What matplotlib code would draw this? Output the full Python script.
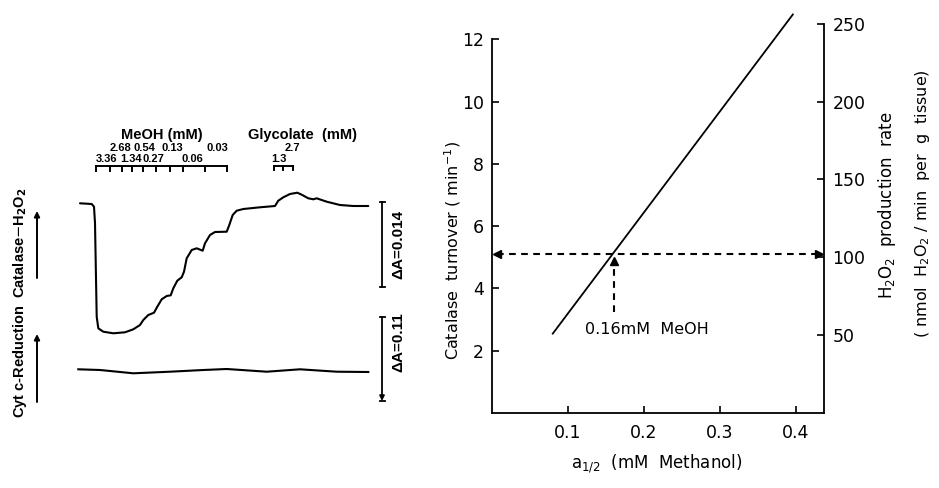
import matplotlib
matplotlib.use("Agg")
import matplotlib.pyplot as plt

# ---------------- data ----------------
# Left panel: recorder traces (in picture units)
upper_trace_x = [80, 91.7, 94, 95, 96.7, 98.3, 103.3, 113.3, 125, 133.3, 140, 143.3, 148.3,
                 154, 157.3, 161.7, 166.7, 170.7, 173.3, 177.3, 181.7, 184, 186.7, 191.7,
                 196.7, 202.7, 205, 210, 215, 226.7, 229.3, 232.7, 236.7, 243.3, 260, 275,
                 278.3, 283.3, 290, 297.3, 301.7, 308.3, 313.3, 316.7, 326.7, 340, 353.3, 368.3]
upper_trace_y = [203.3, 204, 206.7, 223, 316.7, 328.3, 331.7, 333.3, 332.3, 329.3, 325, 320, 315,
                 312.7, 306.7, 299.3, 296, 295.3, 288.3, 280.7, 277.3, 271.7, 258.3, 250,
                 248.3, 250.7, 243.3, 235, 232, 231.7, 225, 215, 210.7, 209, 207.3, 206,
                 200.7, 197.3, 194, 192.7, 194.7, 198.3, 199.3, 198.3, 201.7, 205, 206, 206]
lower_trace_x = [78.3, 100, 133.3, 170, 203.3, 226.7, 266.7, 300, 336.7, 368.3]
lower_trace_y = [369.3, 370, 373.3, 371.7, 370, 369, 371.7, 369.3, 371.7, 372]

meoh_row1 = ["2.68", "0.54", "0.13", "0.03"]
meoh_row2 = ["3.36", "1.34", "0.27", "0.06"]
glyc_row1 = ["2.7"]
glyc_row2 = ["1.3"]
scale_labels = ["ΔA=0.014", "ΔA=0.11"]

# Right panel
a_half = [0.08, 0.396]                 # mM methanol
turnover = [2.55, 12.8]                # min^-1
marked_a = 0.16
marked_turnover = 5.1
left_ticks = [2, 4, 6, 8, 10, 12]
right_ticks = [50, 100, 150, 200, 250]
x_ticks = [0.1, 0.2, 0.3, 0.4]
x_ticklabels = ["0.1", "0.2", "0.3", "0.4"]
h2o2_per_turnover = 20.0

# ---------------- figure ----------------
plt.rcParams['font.family'] = ['DejaVu Sans']
fig = plt.figure(figsize=(9.39, 4.88), dpi=100)

# Left panel drawn in picture coordinates
axL = fig.add_axes([0, 0, 1, 1])
axL.set_xlim(0, 939)
axL.set_ylim(488, 0)
axL.axis('off')

k = 'black'
axL.plot(upper_trace_x, upper_trace_y, color=k, lw=1.5, solid_joinstyle='round',
         solid_capstyle='round')
axL.plot(lower_trace_x, lower_trace_y, color=k, lw=1.5)

bold = dict(fontweight='bold', family='Liberation Sans', color=k)
axL.text(162, 135, "MeOH (mM)", ha='center', va='center', fontsize=10.5, **bold)
axL.text(302, 135, "Glycolate  (mM)", ha='center', va='center', fontsize=10.5, **bold)
for s, xc in zip(meoh_row1, [120, 144, 172, 217]):
    axL.text(xc, 148, s, ha='center', va='center', fontsize=8, **bold)
for s, xc in zip(meoh_row2, [107, 131, 153, 192]):
    axL.text(xc, 159, s, ha='center', va='center', fontsize=8, **bold)
axL.text(292, 148, glyc_row1[0], ha='center', va='center', fontsize=8, **bold)
axL.text(279, 159, glyc_row2[0], ha='center', va='center', fontsize=8, **bold)

# brackets
axL.plot([96, 227], [166, 166], color=k, lw=1.4)
for xt in [96, 110, 122, 132, 143, 156, 170, 183, 205, 227]:
    axL.plot([xt, xt], [166, 171], color=k, lw=1.4)
axL.plot([274, 293], [166, 166], color=k, lw=1.4)
for xt in [274, 283, 293]:
    axL.plot([xt, xt], [166, 170], color=k, lw=1.4)

# left arrows
for y0, y1 in [(278, 211), (402, 334)]:
    axL.annotate("", xy=(37, y1), xytext=(37, y0),
                 arrowprops=dict(arrowstyle='-|>', color=k, lw=1.4,
                                 mutation_scale=8, shrinkA=0, shrinkB=0))
axL.text(20, 303, r"Cyt c-Reduction  Catalase$-$H$_\mathbf{2}$O$_\mathbf{2}$",
         rotation=90, ha='center', va='center', fontsize=10.5, **bold)

# scale bars
axL.plot([382, 382], [202, 287], color=k, lw=1.3)
for yc in [202, 287, 317]:
    axL.plot([379.5, 384.5], [yc, yc], color=k, lw=1.3)
axL.annotate("", xy=(382, 401), xytext=(382, 317),
             arrowprops=dict(arrowstyle='-|>', color=k, lw=1.3,
                             mutation_scale=7, shrinkA=0, shrinkB=0))
axL.plot([379.5, 384.5], [401, 401], color=k, lw=1.3)
axL.text(398, 244, scale_labels[0], rotation=90, ha='center', va='center', fontsize=11, **bold)
axL.text(398, 342, scale_labels[1], rotation=90, ha='center', va='center', fontsize=11, **bold)

# Right panel
W, H = 939, 488
ax = fig.add_axes([492 / W, (H - 413) / H, (824 - 492) / W, 411 / H])
ax.set_xlim(0, 0.437)
ax.set_ylim(0, 13.2)
ax.patch.set_alpha(0)
ax2 = ax.twinx()
ax2.set_ylim(0, 13.2 * h2o2_per_turnover)

for a in (ax, ax2):
    for sp in a.spines.values():
        sp.set_linewidth(1.3)
    a.spines['top'].set_visible(False)
ax.spines['right'].set_visible(False)
ax2.spines['left'].set_visible(False)
ax2.spines['bottom'].set_visible(False)
ax.spines['left'].set_bounds(0, 12)
ax2.spines['right'].set_bounds(0, 250)

ax.plot(a_half, turnover, color=k, lw=1.3)

dash = dict(color=k, lw=1.5, ls=(0, (3.2, 2.6)))
ax.plot([0.006, 0.431], [marked_turnover, marked_turnover], **dash)
ax.plot([marked_a, marked_a], [3.25, 4.9], **dash)
ax.plot([0.007], [marked_turnover], marker='<', color=k, ms=6, clip_on=False)
ax.plot([0.430], [marked_turnover], marker='>', color=k, ms=6, clip_on=False)
ax.plot([marked_a], [4.88], marker='^', color=k, ms=6)
ax.text(0.122, 2.68, "0.16mM  MeOH", ha='left', va='center', fontsize=11.5)

ax.set_yticks(left_ticks)
ax.set_yticklabels([str(t) for t in left_ticks])
ax.set_xticks(x_ticks)
ax.set_xticklabels(x_ticklabels)
ax2.set_yticks(right_ticks)
ax2.set_yticklabels([str(t) for t in right_ticks])
ax.tick_params(direction='in', length=5, width=1.2, labelsize=12.5, pad=6)
ax.tick_params(axis='x', pad=8)
ax2.tick_params(direction='in', length=5, width=1.2, labelsize=12.5, pad=6)

axL.text(453, 250, r"Catalase  turnover ( min$^{-1}$)", rotation=90,
         ha='center', va='center', fontsize=11.5)
axL.text(887, 205, r"H$_2$O$_2$  production  rate", rotation=90,
         ha='center', va='center', fontsize=12)
axL.text(922, 204, r"( nmol  H$_2$O$_2$ / min  per  g  tissue)", rotation=90,
         ha='center', va='center', fontsize=11.5)
axL.text(657, 464, r"a$_{1/2}$  (mM  Methanol)", ha='center', va='center', fontsize=12)

fig.savefig("out.png", dpi=100)
